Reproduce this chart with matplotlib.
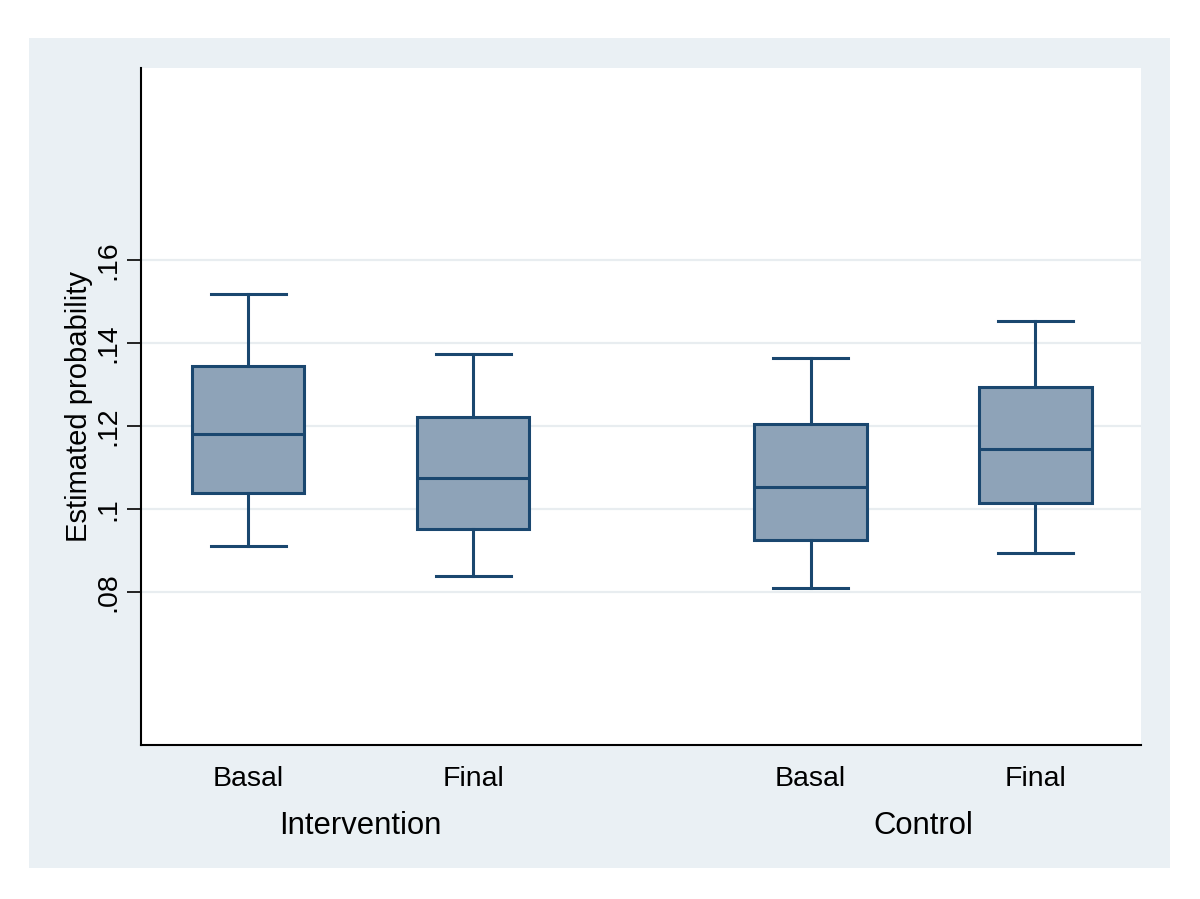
import matplotlib
matplotlib.use("Agg")
import matplotlib.pyplot as plt
from matplotlib.patches import Rectangle
from matplotlib.transforms import blended_transform_factory

# ---- data ----
groups = ["Intervention", "Control"]
periods = ["Basal", "Final", "Basal", "Final"]
whisker_low = [0.0911, 0.0839, 0.0811, 0.0894]
q1 = [0.1039, 0.0952, 0.0926, 0.1014]
median = [0.1182, 0.1076, 0.1054, 0.1145]
q3 = [0.1346, 0.1221, 0.1205, 0.1294]
whisker_high = [0.1518, 0.1375, 0.1364, 0.1454]
yticks = [0.08, 0.10, 0.12, 0.14, 0.16]
ytick_labels = [".08", ".1", ".12", ".14", ".16"]

positions = [1, 2, 3.5, 4.5]

plt.rcParams['font.family'] = ['Liberation Sans', 'DejaVu Sans']

W, H = 1200, 899
fig = plt.figure(figsize=(W / 100, H / 100), dpi=100, facecolor="white")

# outer graph region panel
panel_color = "#EAF0F4"
fig.patches.append(Rectangle((29 / W, (H - 868) / H), (1170 - 29) / W, (868 - 38) / H,
                             transform=fig.transFigure, facecolor=panel_color,
                             edgecolor="none", zorder=-10))

ax = fig.add_axes([141 / W, (H - 745) / H, 1000 / W, 677 / H])
ax.set_facecolor("white")
ax.set_zorder(1)

stats = []
for i in range(len(positions)):
    stats.append(dict(whislo=whisker_low[i], q1=q1[i], med=median[i], q3=q3[i],
                      whishi=whisker_high[i], fliers=[]))

edge = "#1A476F"
fill = "#8EA3B8"
ax.bxp(stats, positions=positions, widths=0.5, patch_artist=True, showfliers=False,
       boxprops=dict(facecolor=fill, edgecolor=edge, linewidth=2.2),
       medianprops=dict(color=edge, linewidth=2.2),
       whiskerprops=dict(color=edge, linewidth=2.2),
       capprops=dict(color=edge, linewidth=2.2),
       capwidths=0.333, zorder=3)

ax.set_xlim(0.524, 4.969)
ax.set_ylim(0.0432, 0.2063)

ax.set_yticks(yticks)
ax.set_yticklabels(ytick_labels, rotation=90, va="center", fontsize=20.5)
ax.tick_params(axis="y", length=10, width=1.2, pad=4, color="black")
ax.yaxis.grid(True, color="#E8EDF0", linewidth=1.6, zorder=0)
ax.set_axisbelow(True)

ax.set_xticks(positions)
ax.set_xticklabels(periods, fontsize=20.5)
ax.tick_params(axis="x", length=0, pad=15)

ax.set_ylabel("Estimated probability", fontsize=21, labelpad=2)

for s in ["top", "right"]:
    ax.spines[s].set_visible(False)
for s in ["left", "bottom"]:
    ax.spines[s].set_linewidth(1.5)
    ax.spines[s].set_color("black")

trans = blended_transform_factory(ax.transData, fig.transFigure)
group_centers = [(positions[0] + positions[1]) / 2, (positions[2] + positions[3]) / 2]
for name, xc in zip(groups, group_centers):
    fig.text(xc, (H - 826) / H, name, transform=trans, ha="center", va="center",
             fontsize=22.3)

fig.savefig("out.png", dpi=100, facecolor="white")
